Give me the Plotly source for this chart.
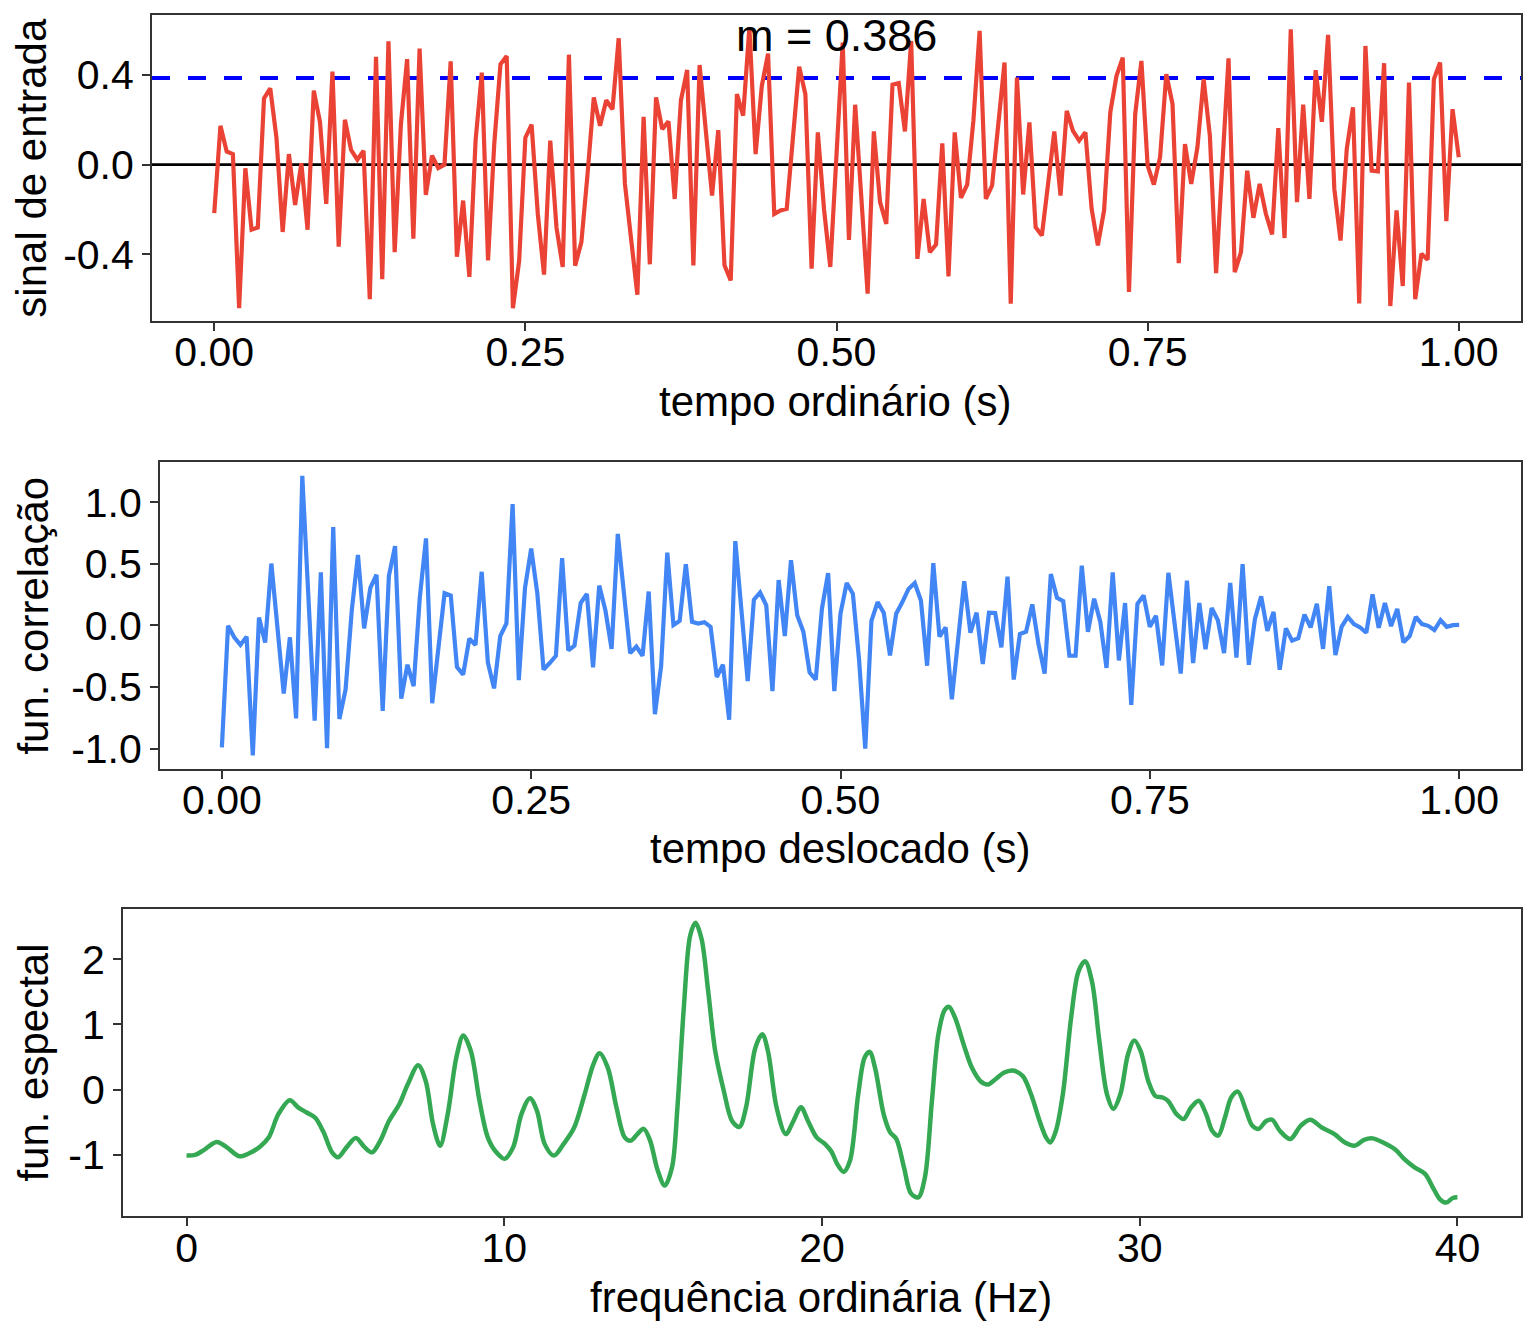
import numpy as np
import plotly.graph_objects as go

# ---------------- data ----------------
tempo = np.linspace(0, 1, 201)

sinal_entrada = [
    -0.216, 0.173, 0.059, 0.047, -0.64, -0.016, -0.29, -0.28, 0.295, 0.34,
    0.12, -0.30, 0.047, -0.18, 0.006, -0.29, 0.33, 0.19, -0.175, 0.415,
    -0.365, 0.20, 0.065, 0.022, 0.062, -0.60, 0.48, -0.51, 0.55, -0.39,
    0.18, 0.47, -0.33, 0.517, -0.135, 0.04, -0.015, 0.0, 0.46, -0.41,
    -0.16, -0.50, 0.107, 0.41, -0.427, 0.092, 0.447, 0.484, -0.64, -0.43,
    0.12, 0.178, -0.22, -0.49, 0.107, -0.28, -0.456, 0.49, -0.45, -0.345,
    -0.04, 0.30, 0.173, 0.287, 0.247, 0.563, -0.086, -0.338, -0.58, 0.213,
    -0.444, 0.30, 0.158, 0.193, -0.153, 0.287, 0.422, -0.449, 0.444, 0.151,
    -0.138, 0.154, -0.449, -0.516, 0.314, 0.218, 0.61, 0.047, 0.351, 0.495,
    -0.22, -0.204, -0.197, 0.12, 0.436, 0.314, -0.464, 0.144, -0.2, -0.456,
    0.05, 0.544, -0.335, 0.267, -0.15, -0.575, 0.148, -0.167, -0.264, 0.356,
    0.363, 0.148, 0.551, -0.42, -0.153, -0.39, -0.356, 0.095, -0.498, 0.144,
    -0.148, -0.089, 0.196, 0.596, -0.153, -0.093, 0.18, 0.455, -0.62, 0.388,
    -0.133, 0.188, -0.279, -0.316, -0.086, 0.148, -0.138, 0.24, 0.151, 0.107,
    0.144, -0.197, -0.36, -0.204, 0.233, 0.396, 0.477, -0.567, 0.225, 0.462,
    -0.004, -0.089, 0.033, 0.403, 0.27, -0.439, 0.092, -0.086, 0.077, 0.381,
    0.129, -0.483, -0.004, 0.474, -0.479, -0.39, -0.027, -0.237, -0.086, -0.219,
    -0.311, 0.163, -0.327, 0.603, -0.167, 0.267, -0.153, 0.421, 0.191, 0.578,
    -0.108, -0.338, 0.07, 0.255, -0.619, 0.529, -0.027, -0.03, 0.452, -0.63,
    -0.204, -0.541, 0.366, -0.6, -0.397, -0.424, 0.381, 0.455, -0.252, 0.247,
    0.033,
]
media = 0.386

correlacao = [
    -0.99, -0.003, -0.096, -0.158, -0.091, -1.055, 0.064, -0.139, 0.503, -0.02,
    -0.552, -0.096, -0.755, 1.215, 0.23, -0.774, 0.431, -0.996, 0.8, -0.76,
    -0.519, 0.123, 0.573, -0.024, 0.305, 0.412, -0.693, 0.404, 0.645, -0.594,
    -0.319, -0.493, 0.23, 0.707, -0.632, -0.145, 0.262, 0.244, -0.337, -0.399,
    -0.107, -0.158, 0.436, -0.3, -0.511, -0.086, 0.016, 0.985, -0.444, 0.305,
    0.624, 0.257, -0.359, -0.305, -0.246, 0.546, -0.203, -0.163, 0.182, 0.257,
    -0.34, 0.324, 0.123, -0.19, 0.744, 0.257, -0.225, -0.171, -0.246, 0.276,
    -0.72, -0.332, 0.592, 0.003, 0.037, 0.498, 0.029, 0.016, 0.027, -0.011,
    -0.418, -0.319, -0.766, 0.685, 0.123, -0.452, 0.209, 0.268, 0.163, -0.533,
    0.369, -0.086, 0.53, 0.083, -0.051, -0.38, -0.439, 0.137, 0.426, -0.533,
    0.096, 0.345, 0.257, -0.278, -1.001, 0.037, 0.19, 0.102, -0.244, 0.096,
    0.19, 0.297, 0.345, 0.203, -0.327, 0.506, -0.091, -0.016, -0.6, -0.118,
    0.359, -0.059, 0.104, -0.313, 0.104, 0.102, -0.177, 0.396, -0.439, -0.07,
    -0.051, 0.171, -0.15, -0.391, 0.418, 0.225, 0.198, -0.246, -0.246, 0.485,
    -0.051, 0.217, 0.029, -0.345, 0.431, -0.284, 0.182, -0.645, 0.177, 0.244,
    -0.011, 0.078, -0.324, 0.428, 0.016, -0.391, 0.364, -0.305, 0.182, -0.193,
    0.142, 0.043, -0.225, 0.345, -0.26, 0.498, -0.319, 0.056, 0.236, -0.043,
    0.11, -0.359, -0.024, -0.123, -0.104, 0.088, -0.016, 0.177, -0.19, 0.319,
    -0.241, -0.011, 0.07, 0.011, -0.016, -0.059, 0.252, -0.019, 0.182, -0.005,
    0.134, -0.137, -0.086, 0.07, 0.011, -0.003, -0.037, 0.043, -0.011, 0.003,
    0.005,
]

frequencia = [
    0.0, 0.27, 0.53, 0.95, 1.26, 1.66, 1.99, 2.32, 2.59, 2.89,
    3.25, 3.51, 3.78, 4.05, 4.31, 4.58, 4.77, 5.04, 5.33, 5.60,
    5.84, 6.10, 6.37, 6.70, 6.96, 7.29, 7.53, 7.76, 7.98, 8.22,
    8.49, 8.71, 8.95, 9.22, 9.48, 9.75, 10.01, 10.28, 10.54, 10.81,
    11.03, 11.27, 11.56, 11.87, 12.2, 12.53, 12.8, 13.0, 13.26, 13.53,
    13.79, 13.99, 14.19, 14.39, 14.59, 14.83, 15.05, 15.28, 15.45, 15.65,
    15.85, 16.02, 16.21, 16.42, 16.64, 16.91, 17.17, 17.4, 17.61, 17.9,
    18.12, 18.3, 18.57, 18.86, 19.1, 19.34, 19.56, 19.83, 20.09, 20.3,
    20.48, 20.68, 20.88, 21.14, 21.34, 21.5, 21.67, 21.94, 22.14, 22.34,
    22.58, 22.8, 23.03, 23.24, 23.46, 23.66, 23.86, 24.0, 24.19, 24.46,
    24.72, 24.99, 25.22, 25.45, 25.72, 26.01, 26.32, 26.58, 26.85, 27.05,
    27.18, 27.35, 27.58, 27.84, 28.07, 28.28, 28.5, 28.73, 28.97, 29.17,
    29.39, 29.63, 29.83, 30.03, 30.27, 30.49, 30.72, 30.89, 31.16, 31.38,
    31.62, 31.86, 32.09, 32.28, 32.47, 32.68, 32.88, 33.09, 33.35, 33.54,
    33.74, 33.98, 34.17, 34.41, 34.74, 35.07, 35.37, 35.73, 36.13, 36.46,
    36.77, 37.06, 37.32, 37.66, 38.05, 38.32, 38.65, 38.98, 39.25, 39.45,
    39.65, 39.85, 40.0,
]
espectral = [
    -1.01, -1.0, -0.93, -0.80, -0.88, -1.02, -0.97, -0.87, -0.73, -0.375,
    -0.16, -0.27, -0.35, -0.43, -0.65, -0.96, -1.035, -0.88, -0.74, -0.88,
    -0.96, -0.78, -0.48, -0.22, 0.08, 0.375, 0.13, -0.53, -0.86, -0.375,
    0.49, 0.83, 0.59, -0.17, -0.73, -0.96, -1.06, -0.88, -0.375, -0.13,
    -0.325, -0.83, -1.01, -0.83, -0.58, -0.07, 0.385, 0.56, 0.335, -0.27,
    -0.73, -0.78, -0.68, -0.60, -0.78, -1.24, -1.47, -1.19, -0.27, 1.25,
    2.36, 2.56, 2.31, 1.50, 0.59, -0.02, -0.48, -0.57, -0.27, 0.64,
    0.85, 0.59, -0.27, -0.68, -0.48, -0.27, -0.48, -0.73, -0.83, -0.95,
    -1.14, -1.26, -1.09, -0.07, 0.49, 0.58, 0.335, -0.375, -0.65, -0.756,
    -1.19, -1.59, -1.65, -1.34, -0.17, 0.84, 1.22, 1.27, 1.10, 0.69,
    0.335, 0.13, 0.08, 0.157, 0.26, 0.294, 0.208, -0.07, -0.48, -0.73,
    -0.81, -0.65, -0.07, 1.10, 1.81, 1.97, 1.65, 0.74, -0.07, -0.29,
    -0.07, 0.54, 0.756, 0.59, 0.13, -0.096, -0.12, -0.17, -0.375, -0.45,
    -0.27, -0.17, -0.375, -0.63, -0.705, -0.43, -0.12, -0.03, -0.325, -0.55,
    -0.60, -0.48, -0.46, -0.63, -0.756, -0.55, -0.46, -0.58, -0.68, -0.81,
    -0.857, -0.77, -0.746, -0.81, -0.92, -1.06, -1.19, -1.29, -1.52, -1.68,
    -1.73, -1.66, -1.65,
]

# ---------------- figure ----------------
W, H = 1536, 1344
FONT = "Liberation Sans, Arial, Helvetica, sans-serif"
TICK = 41
TITLE = 42
AXC = "#333333"

def px_x(p):
    return p / W

def px_y(p):
    return 1 - p / H

fig = go.Figure()
fig.add_trace(go.Scatter(x=tempo, y=sinal_entrada, mode="lines",
                         line=dict(color="#EA4335", width=4.2),
                         xaxis="x", yaxis="y", showlegend=False))
fig.add_trace(go.Scatter(x=tempo, y=correlacao, mode="lines",
                         line=dict(color="#4285F4", width=4.2),
                         xaxis="x2", yaxis="y2", showlegend=False))
fig.add_trace(go.Scatter(x=frequencia, y=espectral, mode="lines",
                         line=dict(color="#34A853", width=4.5, shape="spline", smoothing=0.9),
                         xaxis="x3", yaxis="y3", showlegend=False))

def axis_common():
    return dict(showgrid=False, zeroline=False, showline=True, mirror=True,
                linecolor=AXC, linewidth=2, ticks="outside", ticklen=8,
                tickwidth=2, tickcolor=AXC,
                tickfont=dict(family=FONT, size=TICK, color="black"))

t01 = [0, 0.25, 0.5, 0.75, 1.0]
t01_txt = ["0.00", "0.25", "0.50", "0.75", "1.00"]

fig.update_layout(
    width=W, height=H,
    margin=dict(l=0, r=0, t=0, b=0),
    paper_bgcolor="white", plot_bgcolor="white",
    font=dict(family=FONT, color="black"),
    xaxis=dict(domain=[px_x(152), px_x(1521)], range=[-0.05, 1.05],
               tickvals=t01, ticktext=t01_txt, anchor="y",
               ticklabelstandoff=-14, **axis_common()),
    yaxis=dict(domain=[px_y(322), px_y(15)], range=[-0.698, 0.667],
               tickvals=[-0.4, 0.0, 0.4], ticktext=["-0.4", "0.0", "0.4"],
               anchor="x", **axis_common()),
    xaxis2=dict(domain=[px_x(160), px_x(1521)], range=[-0.05, 1.05],
                tickvals=t01, ticktext=t01_txt, anchor="y2",
                ticklabelstandoff=-14, **axis_common()),
    yaxis2=dict(domain=[px_y(771), px_y(463)], range=[-1.168, 1.328],
                tickvals=[-1, -0.5, 0, 0.5, 1.0],
                ticktext=["-1.0", "-0.5", "0.0", "0.5", "1.0"],
                anchor="x2", **axis_common()),
    xaxis3=dict(domain=[px_x(123), px_x(1521)], range=[-2, 42],
                tickvals=[0, 10, 20, 30, 40], anchor="y3",
                ticklabelstandoff=-13, **axis_common()),
    yaxis3=dict(domain=[px_y(1219), px_y(911)], range=[-1.94, 2.77],
                tickvals=[-1, 0, 1, 2], ticktext=["-1", "0", "1", "2"],
                anchor="x3", **axis_common()),
)

# reference lines in panel 1
fig.add_shape(type="line", xref="x domain", yref="y", x0=0, x1=1, y0=0, y1=0,
              line=dict(color="black", width=2.8), layer="below")
fig.add_shape(type="line", xref="x domain", yref="y", x0=0, x1=1, y0=media, y1=media,
              line=dict(color="#0000FF", width=4, dash="18px,18px"), layer="below")

fig.add_annotation(x=0.5, y=0.575, xref="x", yref="y", text=f"m = {media:.3f}",
                   showarrow=False, font=dict(family=FONT, size=45, color="black"),
                   xanchor="center", yanchor="middle")

# axis titles
titles = [
    ("sinal de entrada", 32, 168, -90),
    ("tempo ordinário (s)", 835, 402, 0),
    ("fun. correlação", 34, 617, -90),
    ("tempo deslocado (s)", 840, 850, 0),
    ("fun. espectal", 34, 1065, -90),
    ("frequência ordinária (Hz)", 821, 1300, 0),
]
for txt, xp, yp, ang in titles:
    fig.add_annotation(x=px_x(xp), y=px_y(yp), xref="paper", yref="paper",
                       text=txt, showarrow=False, textangle=ang,
                       xanchor="center", yanchor="middle",
                       font=dict(family=FONT, size=TITLE, color="black"))

fig.write_html("out.html",
               config={"displayModeBar": False},
               post_script="document.body.style.margin='0px';document.body.style.padding='0px';")
